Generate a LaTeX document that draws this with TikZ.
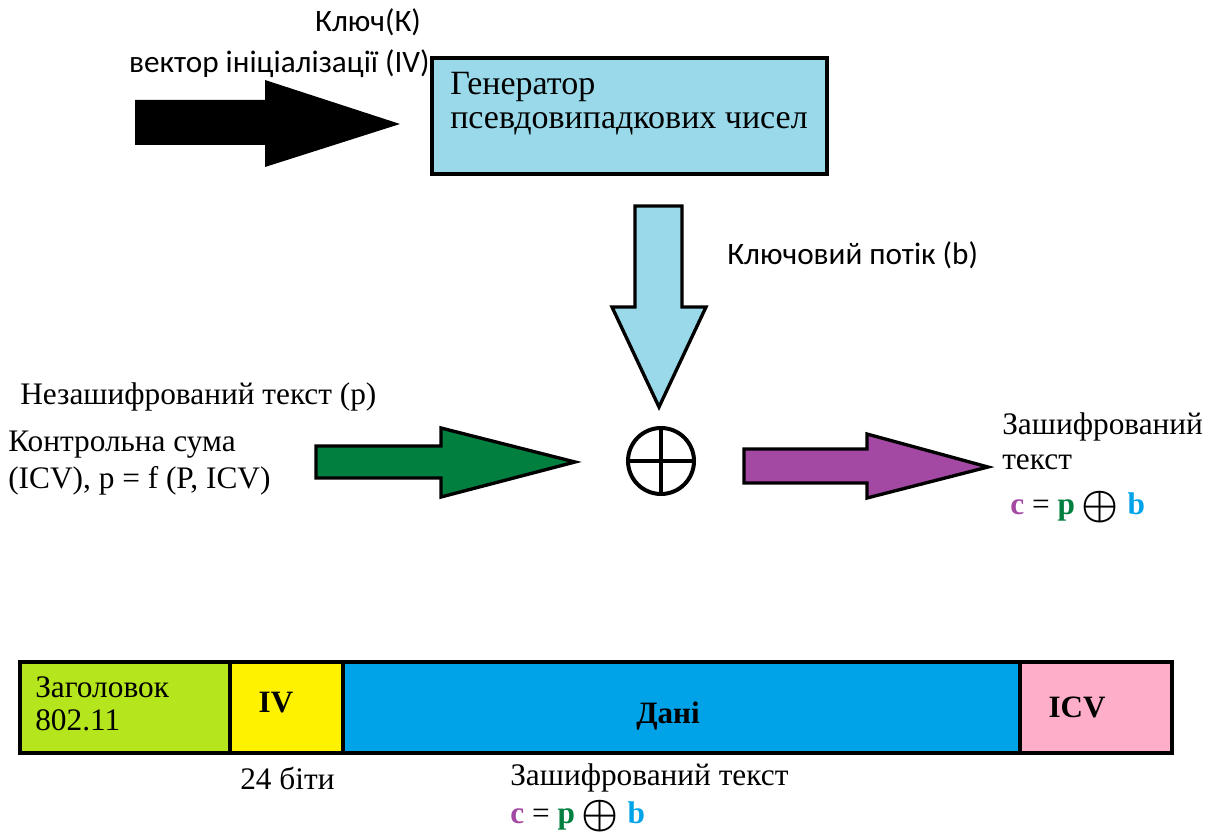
\documentclass[tikz,border=0pt]{standalone}
\usepackage{amsmath}
\usepackage{fontspec}
\usepackage{graphicx}
\setmainfont{Liberation Serif}
\newfontfamily\calib{Carlito}
\definecolor{ltblue}{HTML}{99D9EA}
\definecolor{dgreen}{HTML}{007F3E}
\definecolor{purp}{HTML}{A349A4}
\definecolor{lgreen}{HTML}{B5E61D}
\definecolor{yel}{HTML}{FFF200}
\definecolor{skyb}{HTML}{00A2E8}
\definecolor{pinkc}{HTML}{FFAEC9}
\tikzset{
  serif/.style={font=\fontsize{23.5}{27}\selectfont, inner sep=0pt},
  genfont/.style={font=\fontsize{25.5}{29}\selectfont, inner sep=0pt},
  sans/.style={font=\calib\fontsize{23.4}{27}\selectfont, inner sep=0pt},
  bold/.style={font=\bfseries\fontsize{23.3}{27}\selectfont, inner sep=0pt},
  blockarrow/.style={draw=black, line width=2.5pt, line join=miter},
  cell/.style={draw=black, line width=3.5pt},
}
\newcommand{\cpb}{\textcolor{purp}{\textbf{c}} = \textcolor{dgreen}{\textbf{p}}\hspace{0.2em}\smash{\raisebox{-0.1em}{\scalebox{1.25}{$\boldsymbol{\oplus}$}}}\hspace{0.3em}\textcolor{skyb}{\textbf{b}}}
\begin{document}
\begin{tikzpicture}[x=0.75pt,y=-0.75pt]
\useasboundingbox (0,0) rectangle (1212,831);
% black arrow
\fill[black] (135,100) -- (265,100) -- (265,80) -- (400,124) -- (265,167) -- (265,145) -- (135,145) -- cycle;
\node[sans, anchor=base] (key) at (368,32) {Ключ(К)};
\node[sans, anchor=base east] (iv) at (430,73) {вектор ініціалізації (IV)};
% generator
\draw[fill=ltblue, line width=3.5pt] (432,58) rectangle (827,174);
\node[genfont, anchor=base west] (gen1) at (450,95) {Генератор};
\node[genfont, anchor=base west] (gen2) at (450,128) {псевдовипадкових чисел};
% blue down arrow
\draw[blockarrow, fill=ltblue] (635,206) -- (682,206) -- (682,307) -- (706,307) -- (659,407) -- (612,307) -- (635,307) -- cycle;
\node[sans, anchor=base west] (ks) at (727,264) {Ключовий потік (b)};
% xor
\draw[line width=3pt] (661,461) circle (33);
\draw[line width=3pt] (628,461) -- (694,461) (661,428) -- (661,494);
% green arrow
\draw[blockarrow, fill=dgreen] (316,446) -- (441,446) -- (441,428) -- (575,462) -- (441,497) -- (441,478) -- (316,478) -- cycle;
\node[serif, anchor=base west] (pt) at (20,404) {Незашифрований текст (р)};
\node[serif, anchor=base west] (cs1) at (8,451) {Контрольна сума};
\node[serif, anchor=base west] (cs2) at (8,488) {(ICV), p = f (P, ICV)};
% purple arrow
\draw[blockarrow, fill=purp] (744,449) -- (867,449) -- (867,434) -- (988,467) -- (867,498) -- (867,483) -- (744,483) -- cycle;
\node[serif, anchor=base west] (ct1) at (1002,434) {Зашифрований};
\node[serif, anchor=base west] (ct2) at (1002,469) {текст};
\node[serif, anchor=base west] (eq1) at (1010,514) {\cpb};
% bottom bar
\draw[cell, fill=lgreen] (20,662) rectangle (230,753);
\draw[cell, fill=yel] (230,662) rectangle (343,753);
\draw[cell, fill=skyb] (343,662) rectangle (1020,753);
\draw[cell, fill=pinkc] (1020,662) rectangle (1172,753);
\node[serif, anchor=base west] (hd1) at (35,697) {Заголовок};
\node[serif, anchor=base west] (hd2) at (35,730) {802.11};
\node[bold] (ivl) at (276,703) {IV};
\node[bold] (data) at (668,716) {Дані};
\node[bold] (icv) at (1077,707) {ICV};
\node[serif, anchor=base west] (bits) at (240,789) {24 біти};
\node[serif, anchor=base west] (ct3) at (510,785) {Зашифрований текст};
\node[serif, anchor=base west] (eq2) at (510,823) {\cpb};
\end{tikzpicture}
\end{document}
